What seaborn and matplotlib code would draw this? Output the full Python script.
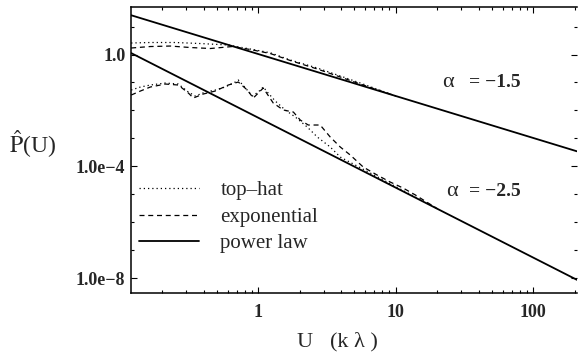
import numpy as np
import matplotlib
matplotlib.use("Agg")
import matplotlib.pyplot as plt
from matplotlib.ticker import FixedLocator, NullFormatter
import seaborn as sns

# Visibility amplitude curves (U in k-lambda, P-hat(U))
u_tophat_hi = [0.119, 0.164, 0.249, 0.379, 0.605, 0.875, 1.22, 1.71, 2.69, 4.15, 5.52, 10.0]
p_tophat_hi = [2.58, 2.69, 2.69, 2.47, 2.19, 1.57, 1.16, 0.636, 0.329, 0.157, 0.0957, 0.0329]

u_expo_hi = [0.119, 0.164, 0.229, 0.320, 0.448, 0.647, 0.875, 1.22, 1.71, 2.69, 4.15, 5.52, 10.0]
p_expo_hi = [1.71, 1.93, 2.01, 1.78, 1.64, 1.93, 1.51, 1.09, 0.61, 0.303, 0.1445, 0.088, 0.0329]

u_tophat_lo = [0.119, 0.139, 0.164, 0.211, 0.262, 0.310, 0.348, 0.412, 0.487, 0.575,
               0.680, 0.716, 0.804, 0.904, 1.0, 1.087, 1.18, 1.33, 1.57, 1.86,
               2.27, 2.69, 3.34, 3.95, 20.0]
p_tophat_lo = [0.0538, 0.0689, 0.0812, 0.0957, 0.0881, 0.0456, 0.0328, 0.0456, 0.0538, 0.0689,
               0.104, 0.1225, 0.0650, 0.0328, 0.0456, 0.0689, 0.042, 0.0217, 0.0104, 0.00583,
               0.00256, 0.00112, 0.000493, 0.000216, 3.1e-6]

u_expo_lo = [0.119, 0.139, 0.164, 0.211, 0.262, 0.310, 0.337, 0.398, 0.487, 0.605,
             0.716, 0.832, 0.920, 1.0, 1.087, 1.285, 1.52, 1.80, 2.02, 2.31,
             2.82, 3.34, 3.95, 4.67, 5.80, 7.33, 9.12, 11.3, 13.9, 20.0]
p_expo_lo = [0.0356, 0.0496, 0.0689, 0.0881, 0.0812, 0.042, 0.0279, 0.0387, 0.0496, 0.0812,
             0.104, 0.0538, 0.0279, 0.042, 0.0634, 0.01845, 0.0104, 0.00879, 0.00455, 0.00302,
             0.00302, 0.00112, 0.000493, 0.000255, 9.5e-5, 4.9e-5, 2.76e-5, 1.69e-5, 9.5e-6, 3.1e-6]

# Power-law reference lines: P = A * U**alpha
alphas = [-1.5, -2.5]
amplitudes = [1.04, 0.0055]

legend_labels = ["top\u2013hat", "exponential", "power law"]
xtick_vals = [1, 10, 100]
xtick_text = ["1", "10", "100"]
ytick_vals = [1e-8, 1e-4, 1.0]
ytick_text = ["1.0e\u22128", "1.0e\u22124", "1.0"]

sns.set_theme(style="ticks")
plt.rcParams["font.family"] = ["Liberation Serif", "DejaVu Serif"]
plt.rcParams["mathtext.fontset"] = "stix"

fig = plt.figure(figsize=(5.78, 3.55), dpi=100)
ax = fig.add_axes([0.2266, 0.1746, 0.7716, 0.8065])
ax.set_xscale("log")
ax.set_yscale("log")
xlim = (0.1186, 208.0)
ax.set_xlim(*xlim)
ax.set_ylim(2.98e-9, 51.2)

dotted = (0, (1.0, 2.4))
dashed = (0, (4.0, 3.0))

sns.lineplot(x=u_tophat_hi, y=p_tophat_hi, ax=ax, color="black", lw=0.9,
             linestyle=dotted, sort=False, label=legend_labels[0], legend=False)
sns.lineplot(x=u_expo_hi, y=p_expo_hi, ax=ax, color="black", lw=0.9,
             linestyle=dashed, sort=False, label=legend_labels[1], legend=False)
sns.lineplot(x=u_tophat_lo, y=p_tophat_lo, ax=ax, color="black", lw=0.9,
             linestyle=dotted, sort=False, legend=False)
sns.lineplot(x=u_expo_lo, y=p_expo_lo, ax=ax, color="black", lw=0.9,
             linestyle=dashed, sort=False, legend=False)

u_ends = np.array(xlim)
for i, (amp, alpha) in enumerate(zip(amplitudes, alphas)):
    sns.lineplot(x=u_ends, y=amp * u_ends ** alpha, ax=ax, color="black", lw=1.3,
                 linestyle="-", sort=False, label=legend_labels[2] if i == 0 else None,
                 legend=False)

handles = ax.get_lines()
leg = ax.legend(handles=[handles[0], handles[1], handles[4]], labels=legend_labels,
                loc="upper left", bbox_to_anchor=(0.018, 0.392), frameon=False,
                fontsize=15, handlelength=2.9, handletextpad=1.0, labelspacing=0.33,
                borderpad=0, borderaxespad=0)

# Axis frame and ticks
for side in ["left", "bottom", "top"]:
    ax.spines[side].set_linewidth(1.1)
    ax.spines[side].set_color("black")
ax.spines["right"].set_visible(False)

ax.xaxis.set_major_locator(FixedLocator(xtick_vals))
minor_x = [m * 10.0 ** e for e in range(-1, 3) for m in range(2, 10)]
ax.xaxis.set_minor_locator(FixedLocator([v for v in minor_x if xlim[0] <= v <= xlim[1]]))
ax.xaxis.set_minor_formatter(NullFormatter())
ax.set_xticklabels(xtick_text, fontweight="bold", fontsize=13)

ax.yaxis.set_major_locator(FixedLocator(ytick_vals))
ax.yaxis.set_minor_locator(FixedLocator([10.0 ** e for e in range(-8, 2) if e not in (-8, -4, 0)]))
ax.yaxis.set_minor_formatter(NullFormatter())
ax.set_yticklabels(ytick_text, fontweight="bold", fontsize=13)

ax.tick_params(which="both", direction="in", top=True, right=True, color="black",
               width=0.8)
ax.tick_params(which="major", length=4.0)
ax.tick_params(which="minor", length=2.4)
ax.tick_params(axis="x", which="major", pad=8)
ax.tick_params(axis="y", which="major", pad=4)

ax.set_xlabel("U   (k \u03bb )", fontsize=16)
ax.xaxis.set_label_coords(0.462, -0.171)
ax.xaxis.label.set_va("center")
ax.set_ylabel(r"$\hat{\mathrm{P}}$(U)", fontsize=17, rotation=0)
ax.yaxis.set_label_coords(-0.22, 0.52)
ax.yaxis.label.set_va("center")
ax.yaxis.label.set_ha("center")

# Slope annotations
for ypos, xa, alpha in [(0.735, 0.697, alphas[0]), (0.356, 0.706, alphas[1])]:
    ax.text(xa, ypos, "\u03b1", transform=ax.transAxes, fontsize=16,
            ha="left", va="center")
    ax.text(0.758, ypos, "= \u2212%.1f" % abs(alpha), transform=ax.transAxes,
            fontsize=14, fontweight="bold", ha="left", va="center")

fig.savefig("out.png", dpi=100)
